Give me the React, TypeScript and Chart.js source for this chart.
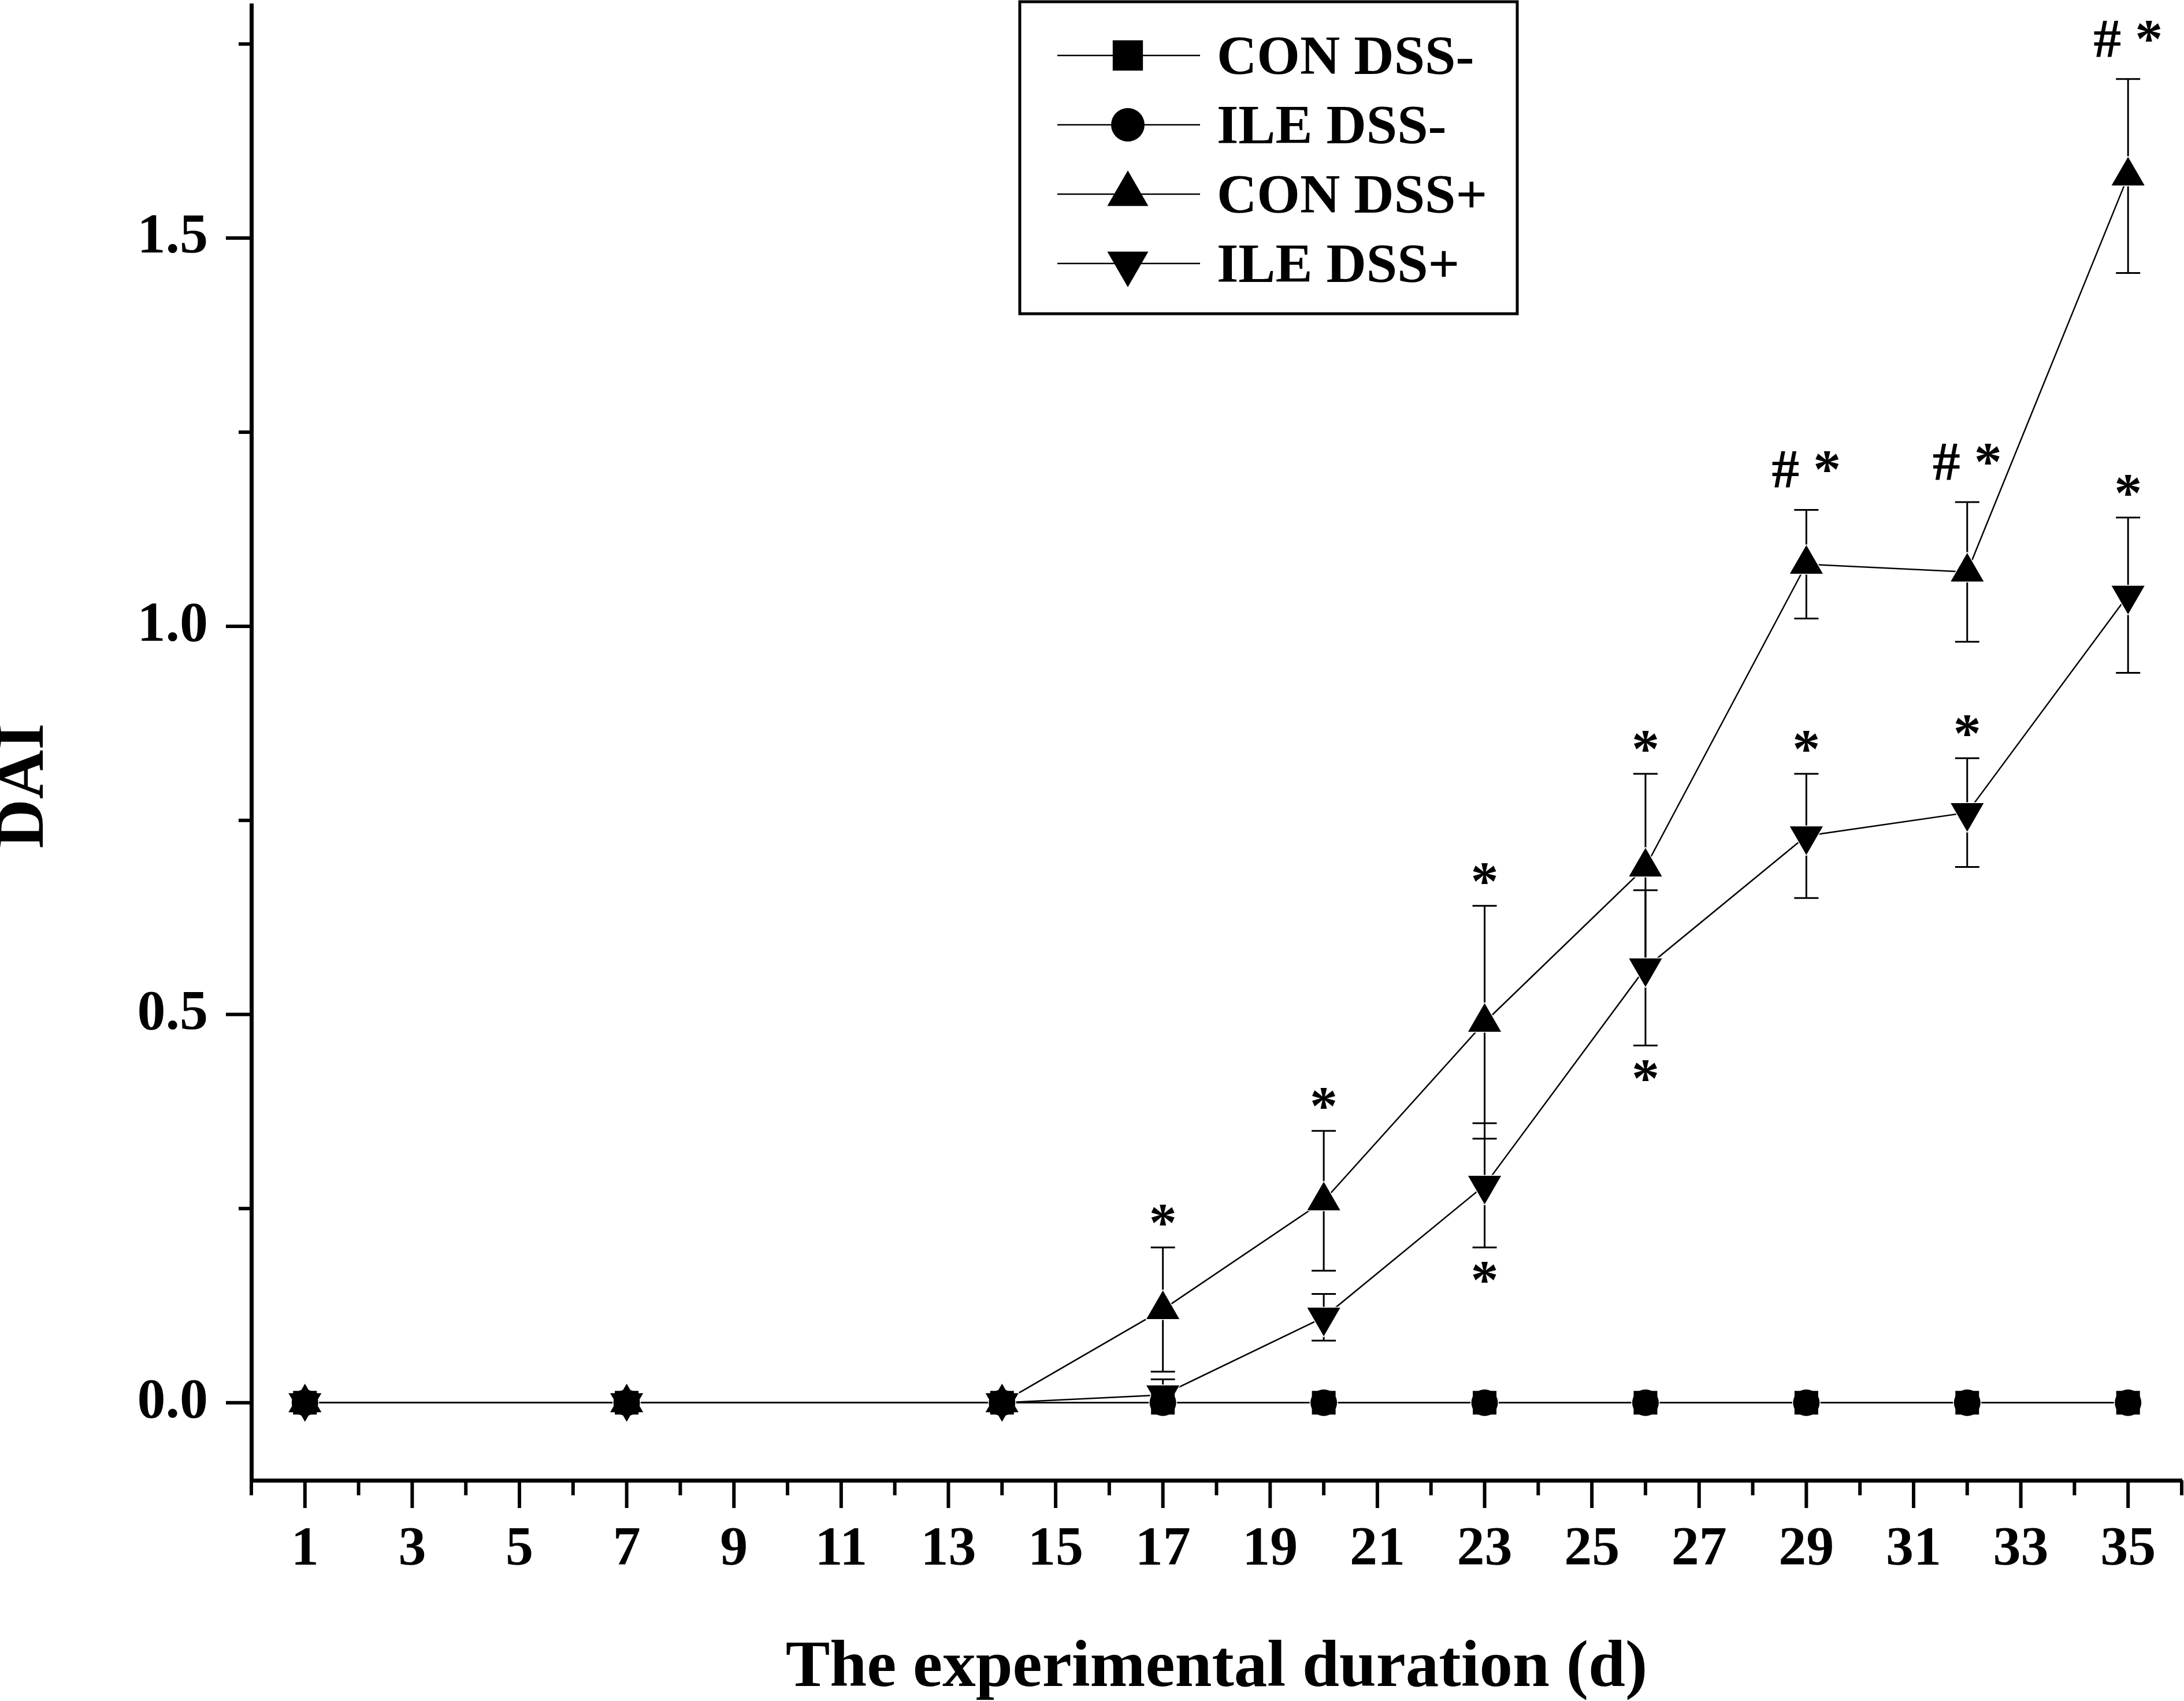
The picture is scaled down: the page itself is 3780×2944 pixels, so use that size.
import { useEffect, useRef } from "react";
import { Chart, registerables } from "chart.js";
import { drawPoint } from "chart.js/helpers";

Chart.register(...registerables);

// sampling days
const DAYS = [1, 7, 14, 17, 20, 23, 26, 29, 32, 35];

const SERIES_LABELS = ["CON DSS-", "ILE DSS-", "CON DSS+", "ILE DSS+"];

const CON_NEG = [0, 0, 0, 0, 0, 0, 0, 0, 0, 0];
const CON_NEG_ERR = [0, 0, 0, 0, 0, 0, 0, 0, 0, 0];
const ILE_NEG = [0, 0, 0, 0, 0, 0, 0, 0, 0, 0];
const ILE_NEG_ERR = [0, 0, 0, 0, 0, 0, 0, 0, 0, 0];
const CON_POS = [0, 0, 0, 0.12, 0.26, 0.49, 0.69, 1.08, 1.07, 1.58];
const CON_POS_ERR = [0, 0, 0, 0.08, 0.09, 0.15, 0.12, 0.07, 0.09, 0.125];
const ILE_POS = [0, 0, 0, 0.01, 0.11, 0.28, 0.56, 0.73, 0.76, 1.04];
const ILE_POS_ERR = [0, 0, 0, 0.02, 0.03, 0.08, 0.1, 0.08, 0.07, 0.1];

// axis ticks
const X_TICKS = [1, 3, 5, 7, 9, 11, 13, 15, 17, 19, 21, 23, 25, 27, 29, 31, 33, 35];
const X_MINOR = [0, 2, 4, 6, 8, 10, 12, 14, 16, 18, 20, 22, 24, 26, 28, 30, 32, 34, 36];
const Y_TICKS = [0, 0.5, 1.0, 1.5];
const Y_TICK_LABELS = ["0.0", "0.5", "1.0", "1.5"];
const Y_MINOR = [0.25, 0.75, 1.25, 1.75];

// significance marks
const SIG_SERIES = [2, 2, 2, 2, 2, 2, 2, 3, 3, 3, 3, 3];
const SIG_DAYS = [17, 20, 23, 26, 29, 32, 35, 23, 26, 29, 32, 35];
const SIG_TEXT = ["*", "*", "*", "*", "# *", "# *", "# *", "*", "*", "*", "*", "*"];
const SIG_BELOW = [false, false, false, false, false, false, false, true, true, false, false, false];

const VALUES = [CON_NEG, ILE_NEG, CON_POS, ILE_POS];
const ERRORS = [CON_NEG_ERR, ILE_NEG_ERR, CON_POS_ERR, ILE_POS_ERR];
const STYLES = ["rect", "circle", "triangle", "triangle"];
const ROTATIONS = [0, 0, 0, 180];
const RADII = [29, 23, 33, 33];
const LEGEND_RADII = [37, 29, 41, 41];

const FONT = '"Liberation Serif", "Times New Roman", serif';
const W = 3780;
const H = 2944;
const GAP = 12;

const overlay = {
  id: "originStyle",
  afterDatasetsDraw(chart: any) {
    const { ctx } = chart;
    const xs = chart.scales.x;
    const ys = chart.scales.y;
    ctx.save();
    // error bars
    ctx.strokeStyle = "#000";
    ctx.lineWidth = 3;
    VALUES.forEach((vals, si) => {
      vals.forEach((v, i) => {
        const e = ERRORS[si][i];
        if (!e) return;
        const x = xs.getPixelForValue(DAYS[i]);
        const top = ys.getPixelForValue(v + e);
        const bot = ys.getPixelForValue(v - e);
        ctx.beginPath();
        ctx.moveTo(x, top);
        ctx.lineTo(x, bot);
        ctx.moveTo(x - 21, top);
        ctx.lineTo(x + 21, top);
        ctx.moveTo(x - 21, bot);
        ctx.lineTo(x + 21, bot);
        ctx.stroke();
      });
    });
    // white halos round the symbols
    ctx.fillStyle = "#fff";
    ctx.strokeStyle = "#fff";
    ctx.lineJoin = "round";
    chart.data.datasets.forEach((_d: any, di: number) => {
      chart.getDatasetMeta(di).data.forEach((el: any) => {
        drawPoint(ctx, { ...el.options, borderWidth: GAP * 2 }, el.x, el.y);
      });
    });
    ctx.restore();
    chart.data.datasets.forEach((_d: any, di: number) => {
      chart.getDatasetMeta(di).data.forEach((el: any) => el.draw(ctx, chart.chartArea));
    });
  },
  afterDraw(chart: any) {
    const { ctx, chartArea } = chart;
    const xs = chart.scales.x;
    const ys = chart.scales.y;
    ctx.save();
    ctx.strokeStyle = "#000";
    ctx.fillStyle = "#000";
    ctx.lineWidth = 6;
    // tick marks
    const b = chartArea.bottom;
    X_TICKS.forEach((v) => {
      const p = xs.getPixelForValue(v);
      ctx.beginPath();
      ctx.moveTo(p, b);
      ctx.lineTo(p, b + 48);
      ctx.stroke();
    });
    X_MINOR.forEach((v) => {
      const p = xs.getPixelForValue(v);
      ctx.beginPath();
      ctx.moveTo(p, b);
      ctx.lineTo(p, b + 26);
      ctx.stroke();
    });
    const l = chartArea.left;
    Y_TICKS.forEach((v) => {
      const p = ys.getPixelForValue(v);
      ctx.beginPath();
      ctx.moveTo(l, p);
      ctx.lineTo(l - 44, p);
      ctx.stroke();
    });
    Y_MINOR.forEach((v) => {
      const p = ys.getPixelForValue(v);
      ctx.beginPath();
      ctx.moveTo(l, p);
      ctx.lineTo(l - 22, p);
      ctx.stroke();
    });

    // significance marks
    ctx.font = `bold 96px ${FONT}`;
    ctx.textAlign = "center";
    ctx.textBaseline = "alphabetic";
    SIG_TEXT.forEach((t, k) => {
      const si = SIG_SERIES[k];
      const i = DAYS.indexOf(SIG_DAYS[k]);
      const v = VALUES[si][i];
      const e = ERRORS[si][i];
      const m = ctx.measureText(t);
      const x = xs.getPixelForValue(SIG_DAYS[k]);
      let y;
      if (SIG_BELOW[k]) {
        y = ys.getPixelForValue(v - e) + 25 + m.actualBoundingBoxAscent;
      } else {
        y = ys.getPixelForValue(v + e) - 38 - m.actualBoundingBoxDescent;
      }
      ctx.fillText(t, x, y);
    });

    // axis titles
    ctx.font = `bold 115px ${FONT}`;
    ctx.fillText("The experimental duration (d)", (chartArea.left + chartArea.right) / 2, 2918);
    ctx.save();
    ctx.translate(44, 1360);
    ctx.rotate(-Math.PI / 2);
    ctx.font = `bold 118px ${FONT}`;
    ctx.textBaseline = "middle";
    ctx.fillText("DAI", 0, 0);
    ctx.restore();

    // legend
    ctx.lineWidth = 5;
    ctx.strokeRect(1765, 3, 861, 540);
    ctx.font = `bold 96px ${FONT}`;
    ctx.textAlign = "left";
    ctx.textBaseline = "alphabetic";
    SERIES_LABELS.forEach((label, i) => {
      const y = 96 + i * 120;
      ctx.lineWidth = 2.5;
      ctx.beginPath();
      ctx.moveTo(1830, y);
      ctx.lineTo(2077, y);
      ctx.stroke();
      drawPoint(
        ctx,
        { pointStyle: STYLES[i], rotation: ROTATIONS[i], radius: LEGEND_RADII[i], borderWidth: 0 },
        1952,
        y
      );
      ctx.fillText(label, 2106, y + 32);
    });
    ctx.restore();
  },
};

export default function App() {
  const canvasRef = useRef<HTMLCanvasElement>(null);

  useEffect(() => {
    document.body.style.margin = "0";
    if (!canvasRef.current) return;
    const chart = new Chart(canvasRef.current, {
      type: "line",
      data: {
        datasets: SERIES_LABELS.map((label, si) => ({
          label,
          data: DAYS.map((d, i) => ({ x: d, y: VALUES[si][i] })),
          borderColor: "#000",
          borderWidth: 2.5,
          backgroundColor: "#000",
          pointStyle: STYLES[si] as any,
          pointRotation: ROTATIONS[si],
          pointRadius: RADII[si],
          pointBackgroundColor: "#000",
          pointBorderWidth: 0,
          tension: 0,
          clip: false as any,
        })),
      },
      options: {
        animation: false,
        responsive: false,
        devicePixelRatio: 1,
        layout: { autoPadding: false, padding: { top: 9, right: 4, left: 0, bottom: 0 } },
        plugins: { legend: { display: false }, tooltip: { enabled: false } },
        scales: {
          x: {
            type: "linear",
            min: 0,
            max: 36,
            afterBuildTicks: (s: any) => {
              s.ticks = X_TICKS.map((v) => ({ value: v }));
            },
            afterFit: (s: any) => {
              s.height = H - 2562;
              s.paddingLeft = 0;
              s.paddingRight = 0;
            },
            grid: { drawOnChartArea: false, drawTicks: false },
            border: { display: true, width: 7, color: "#000" },
            ticks: {
              color: "#000",
              font: { family: FONT, size: 96, weight: "bold" },
              padding: 64,
              maxRotation: 0,
              autoSkip: false,
              callback: (v: any) => String(v),
            },
          },
          y: {
            type: "linear",
            min: -0.1,
            max: 1.8,
            afterBuildTicks: (s: any) => {
              s.ticks = Y_TICKS.map((v) => ({ value: v }));
            },
            afterFit: (s: any) => {
              s.width = 435;
              s.paddingTop = 0;
              s.paddingBottom = 0;
            },
            grid: { drawOnChartArea: false, drawTicks: false },
            border: { display: true, width: 7, color: "#000" },
            ticks: {
              color: "#000",
              font: { family: FONT, size: 98, weight: "bold" },
              padding: 75,
              callback: (v: any) => Y_TICK_LABELS[Y_TICKS.indexOf(Number(v))] ?? "",
            },
          },
        },
      },
      plugins: [overlay],
    });
    return () => chart.destroy();
  }, []);

  return (
    <div style={{ width: W, height: H, overflow: "hidden" }}>
      <canvas ref={canvasRef} width={W} height={H} />
    </div>
  );
}
